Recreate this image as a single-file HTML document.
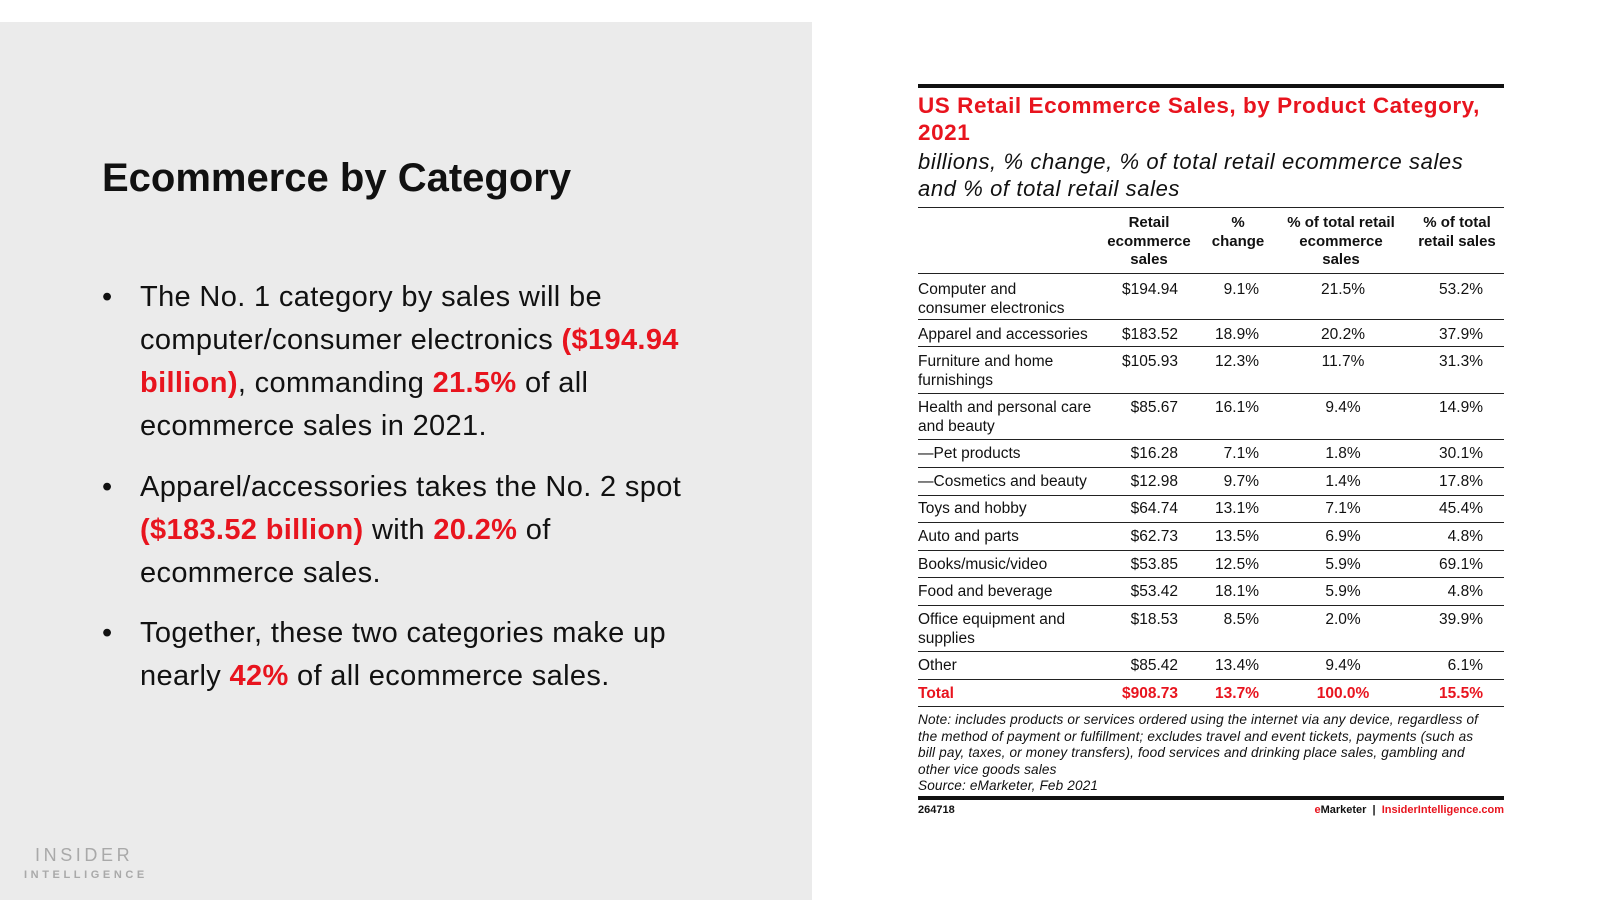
<!DOCTYPE html>
<html><head><meta charset="utf-8"><style>
*{margin:0;padding:0;box-sizing:border-box}
body{width:1600px;height:900px;background:#fff;position:relative;overflow:hidden;font-family:"Liberation Sans",sans-serif;color:#111}
.panel{position:absolute;left:0;top:22px;width:812px;height:878px;background:#ebebeb}
h1{position:absolute;left:102px;top:156px;font-size:40px;font-weight:bold;color:#111}
.bul{position:absolute;left:140px;width:570px;font-size:29px;letter-spacing:0.35px;line-height:43px;color:#111}
.bul:before{content:"•";position:absolute;left:-38px}
.r{color:#e8141e;font-weight:bold}
.logo1{position:absolute;left:35px;top:845px;font-size:18px;letter-spacing:3.6px;color:#a9a9a9}
.logo2{position:absolute;left:24px;top:869px;font-size:11px;letter-spacing:3.6px;color:#a9a9a9;font-weight:bold}
.tl{position:absolute;left:918px;width:586px;height:1px;background:#222}
.tt{position:absolute;left:918px;font-size:22.5px;letter-spacing:0.55px;font-weight:bold;color:#e8141e;line-height:27px}
.ts{position:absolute;left:918px;font-size:22px;letter-spacing:0.6px;font-style:italic;line-height:27px;color:#111}
.hd{position:absolute;font-size:15px;font-weight:bold;line-height:18.5px;text-align:center;transform:translateX(-50%);white-space:nowrap}
.row{position:absolute;left:918px;width:586px;font-size:15.5px;line-height:18.5px}
.row span{position:absolute;top:0;white-space:nowrap}
.c0{left:0}
.c1{right:326px}
.c2{right:245px}
.c3{left:425px;transform:translateX(-50%)}
.c4{right:21px}
.note{position:absolute;left:918px;top:712px;font-size:13.6px;letter-spacing:0.15px;font-style:italic;line-height:16.5px;width:575px}
</style></head><body>
<div class="panel"></div>
<h1>Ecommerce by Category</h1>
<div class="bul" style="top:276px">The No. 1 category by sales will be computer/consumer electronics <span class="r">($194.94 billion)</span>, commanding <span class="r">21.5%</span> of all ecommerce sales in 2021.</div>
<div class="bul" style="top:466px">Apparel/accessories takes the No. 2 spot <span class="r">($183.52 billion)</span> with <span class="r">20.2%</span> of ecommerce sales.</div>
<div class="bul" style="top:612px">Together, these two categories make up nearly <span class="r">42%</span> of all ecommerce sales.</div>
<div class="logo1">INSIDER</div>
<div class="logo2">INTELLIGENCE</div>

<div class="tl" style="top:84px;height:4px;background:#111"></div>
<div class="tt" style="top:92px">US Retail Ecommerce Sales, by Product Category,<br>2021</div>
<div class="ts" style="top:148px">billions, % change, % of total retail ecommerce sales<br>and % of total retail sales</div>
<div class="tl" style="top:207px"></div>
<div class="hd" style="left:1149px;top:214px">Retail<br>ecommerce<br>sales</div>
<div class="hd" style="left:1238px;top:214px">%<br>change</div>
<div class="hd" style="left:1341px;top:214px">% of total retail<br>ecommerce<br>sales</div>
<div class="hd" style="left:1457px;top:214px">% of total<br>retail sales</div>
<div class="tl" style="top:273px"></div>

<div class="row" style="top:281px"><span class="c0">Computer and<br>consumer electronics</span><span class="c1">$194.94</span><span class="c2">9.1%</span><span class="c3">21.5%</span><span class="c4">53.2%</span></div>
<div class="tl" style="top:319px"></div>
<div class="row" style="top:326px"><span class="c0">Apparel and accessories</span><span class="c1">$183.52</span><span class="c2">18.9%</span><span class="c3">20.2%</span><span class="c4">37.9%</span></div>
<div class="tl" style="top:346px"></div>
<div class="row" style="top:353px"><span class="c0">Furniture and home<br>furnishings</span><span class="c1">$105.93</span><span class="c2">12.3%</span><span class="c3">11.7%</span><span class="c4">31.3%</span></div>
<div class="tl" style="top:393px"></div>
<div class="row" style="top:399px"><span class="c0">Health and personal care<br>and beauty</span><span class="c1">$85.67</span><span class="c2">16.1%</span><span class="c3">9.4%</span><span class="c4">14.9%</span></div>
<div class="tl" style="top:439px"></div>
<div class="row" style="top:445px"><span class="c0">—Pet products</span><span class="c1">$16.28</span><span class="c2">7.1%</span><span class="c3">1.8%</span><span class="c4">30.1%</span></div>
<div class="tl" style="top:467px"></div>
<div class="row" style="top:473px"><span class="c0">—Cosmetics and beauty</span><span class="c1">$12.98</span><span class="c2">9.7%</span><span class="c3">1.4%</span><span class="c4">17.8%</span></div>
<div class="tl" style="top:495px"></div>
<div class="row" style="top:500px"><span class="c0">Toys and hobby</span><span class="c1">$64.74</span><span class="c2">13.1%</span><span class="c3">7.1%</span><span class="c4">45.4%</span></div>
<div class="tl" style="top:522px"></div>
<div class="row" style="top:528px"><span class="c0">Auto and parts</span><span class="c1">$62.73</span><span class="c2">13.5%</span><span class="c3">6.9%</span><span class="c4">4.8%</span></div>
<div class="tl" style="top:550px"></div>
<div class="row" style="top:556px"><span class="c0">Books/music/video</span><span class="c1">$53.85</span><span class="c2">12.5%</span><span class="c3">5.9%</span><span class="c4">69.1%</span></div>
<div class="tl" style="top:577px"></div>
<div class="row" style="top:583px"><span class="c0">Food and beverage</span><span class="c1">$53.42</span><span class="c2">18.1%</span><span class="c3">5.9%</span><span class="c4">4.8%</span></div>
<div class="tl" style="top:605px"></div>
<div class="row" style="top:611px"><span class="c0">Office equipment and<br>supplies</span><span class="c1">$18.53</span><span class="c2">8.5%</span><span class="c3">2.0%</span><span class="c4">39.9%</span></div>
<div class="tl" style="top:651px"></div>
<div class="row" style="top:657px"><span class="c0">Other</span><span class="c1">$85.42</span><span class="c2">13.4%</span><span class="c3">9.4%</span><span class="c4">6.1%</span></div>
<div class="tl" style="top:679px"></div>
<div class="row" style="top:685px;color:#e8141e;font-weight:bold"><span class="c0">Total</span><span class="c1">$908.73</span><span class="c2">13.7%</span><span class="c3">100.0%</span><span class="c4">15.5%</span></div>
<div class="tl" style="top:706px"></div>
<div class="note">Note: includes products or services ordered using the internet via any device, regardless of<br>the method of payment or fulfillment; excludes travel and event tickets, payments (such as<br>bill pay, taxes, or money transfers), food services and drinking place sales, gambling and<br>other vice goods sales<br>Source: eMarketer, Feb 2021</div>
<div class="tl" style="top:796px;height:4px;background:#111"></div>
<div style="position:absolute;left:918px;top:804px;font-size:11px;font-weight:bold">264718</div>
<div style="position:absolute;right:96px;top:804px;font-size:11px;font-weight:bold"><span style="color:#e8141e">e</span>Marketer &nbsp;| &nbsp;<span style="color:#e8141e">InsiderIntelligence.com</span></div>
</body></html>
